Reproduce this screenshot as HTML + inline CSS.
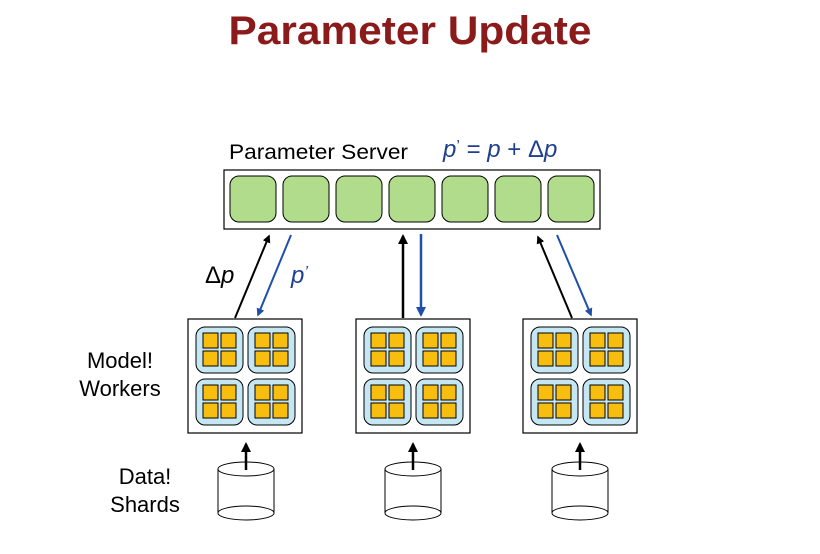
<!DOCTYPE html>
<html><head><meta charset="utf-8"><style>html,body{margin:0;padding:0;background:#fff}svg{display:block}</style></head>
<body>
<svg width="820" height="554" viewBox="0 0 820 554" xmlns="http://www.w3.org/2000/svg" font-family="Liberation Sans, Arial, sans-serif">
<defs>
<marker id="ak" viewBox="0 0 10 10" refX="8" refY="5" markerWidth="4" markerHeight="4" orient="auto"><path d="M0,0L10,5L0,10z" fill="#000"/></marker>
<marker id="ab" viewBox="0 0 10 10" refX="8" refY="5" markerWidth="4" markerHeight="4" orient="auto"><path d="M0,0L10,5L0,10z" fill="#1f4fa8"/></marker>
<g id="tile"><rect x="0" y="0" width="47" height="46" rx="9" fill="#c5e6f3" stroke="#000" stroke-width="1"/>
<rect x="7" y="6" width="15" height="15" fill="#f7bd0f" stroke="#000" stroke-width="1"/>
<rect x="25" y="6" width="15" height="15" fill="#f7bd0f" stroke="#000" stroke-width="1"/>
<rect x="7" y="24" width="15" height="15" fill="#f7bd0f" stroke="#000" stroke-width="1"/>
<rect x="25" y="24" width="15" height="15" fill="#f7bd0f" stroke="#000" stroke-width="1"/></g>
<g id="worker"><rect x="0" y="0" width="114" height="114" fill="#fff" stroke="#000" stroke-width="1.2"/>
<use href="#tile" x="8" y="8"/><use href="#tile" x="60" y="8"/><use href="#tile" x="8" y="60"/><use href="#tile" x="60" y="60"/></g>
<g id="cyl"><path d="M-28,-2 V42" stroke="#000" fill="none"/><path d="M28,-2 V42" stroke="#000" fill="none"/>
<ellipse cx="0" cy="-2" rx="28" ry="7" fill="#fff" stroke="#000"/>
<ellipse cx="0" cy="42" rx="28" ry="7" fill="#fff" stroke="#000"/></g>
</defs>
<text x="410" y="44" text-anchor="middle" font-size="40" font-weight="bold" fill="#8b1a1a" textLength="363" lengthAdjust="spacingAndGlyphs">Parameter Update</text>
<text x="229" y="159" font-size="21" fill="#000" textLength="179" lengthAdjust="spacingAndGlyphs">Parameter Server</text>
<text x="443" y="157" font-size="24" fill="#1f3f8f"><tspan font-style="italic">p</tspan><tspan font-size="16" dy="-6">’</tspan><tspan dy="6"> = </tspan><tspan font-style="italic">p</tspan> + Δ<tspan font-style="italic">p</tspan></text>
<rect x="224" y="170" width="376" height="59" fill="#fff" stroke="#000" stroke-width="1.2"/>
<g fill="#b0dc8c" stroke="#000" stroke-width="1">
<rect x="230" y="176" width="46" height="46" rx="9"/><rect x="283" y="176" width="46" height="46" rx="9"/><rect x="336" y="176" width="46" height="46" rx="9"/><rect x="389" y="176" width="46" height="46" rx="9"/><rect x="442" y="176" width="46" height="46" rx="9"/><rect x="495" y="176" width="46" height="46" rx="9"/><rect x="548" y="176" width="46" height="46" rx="9"/></g>
<line x1="235" y1="318" x2="269" y2="236" stroke="#000" stroke-width="2" marker-end="url(#ak)"/>
<line x1="291" y1="235" x2="258" y2="315" stroke="#1f4fa8" stroke-width="2" marker-end="url(#ab)"/>
<line x1="403" y1="318" x2="403" y2="236" stroke="#000" stroke-width="2.5" marker-end="url(#ak)"/>
<line x1="421" y1="234" x2="421" y2="315" stroke="#1f4fa8" stroke-width="2.5" marker-end="url(#ab)"/>
<line x1="572" y1="318" x2="538" y2="237" stroke="#000" stroke-width="2" marker-end="url(#ak)"/>
<line x1="557" y1="235" x2="591" y2="315" stroke="#1f4fa8" stroke-width="2" marker-end="url(#ab)"/>
<text x="205" y="283" font-size="24" fill="#000">Δ<tspan font-style="italic">p</tspan></text>
<text x="291" y="283" font-size="24" fill="#1f3f8f" font-style="italic">p<tspan font-size="16" dy="-6">’</tspan></text>
<use href="#worker" x="188" y="319"/><use href="#worker" x="356" y="319"/><use href="#worker" x="523" y="319"/>
<text x="120" y="368" font-size="22" text-anchor="middle">Model!</text>
<text x="120" y="396" font-size="22" text-anchor="middle">Workers</text>
<use href="#cyl" x="246" y="471"/><use href="#cyl" x="413" y="471"/><use href="#cyl" x="580" y="471"/>
<g stroke="#000" stroke-width="2.5">
<line x1="246" y1="470" x2="246" y2="444" marker-end="url(#ak)"/>
<line x1="413" y1="470" x2="413" y2="444" marker-end="url(#ak)"/>
<line x1="580" y1="470" x2="580" y2="444" marker-end="url(#ak)"/></g>
<text x="145" y="484" font-size="22" text-anchor="middle">Data!</text>
<text x="145" y="512" font-size="22" text-anchor="middle">Shards</text>
</svg>
</body></html>
